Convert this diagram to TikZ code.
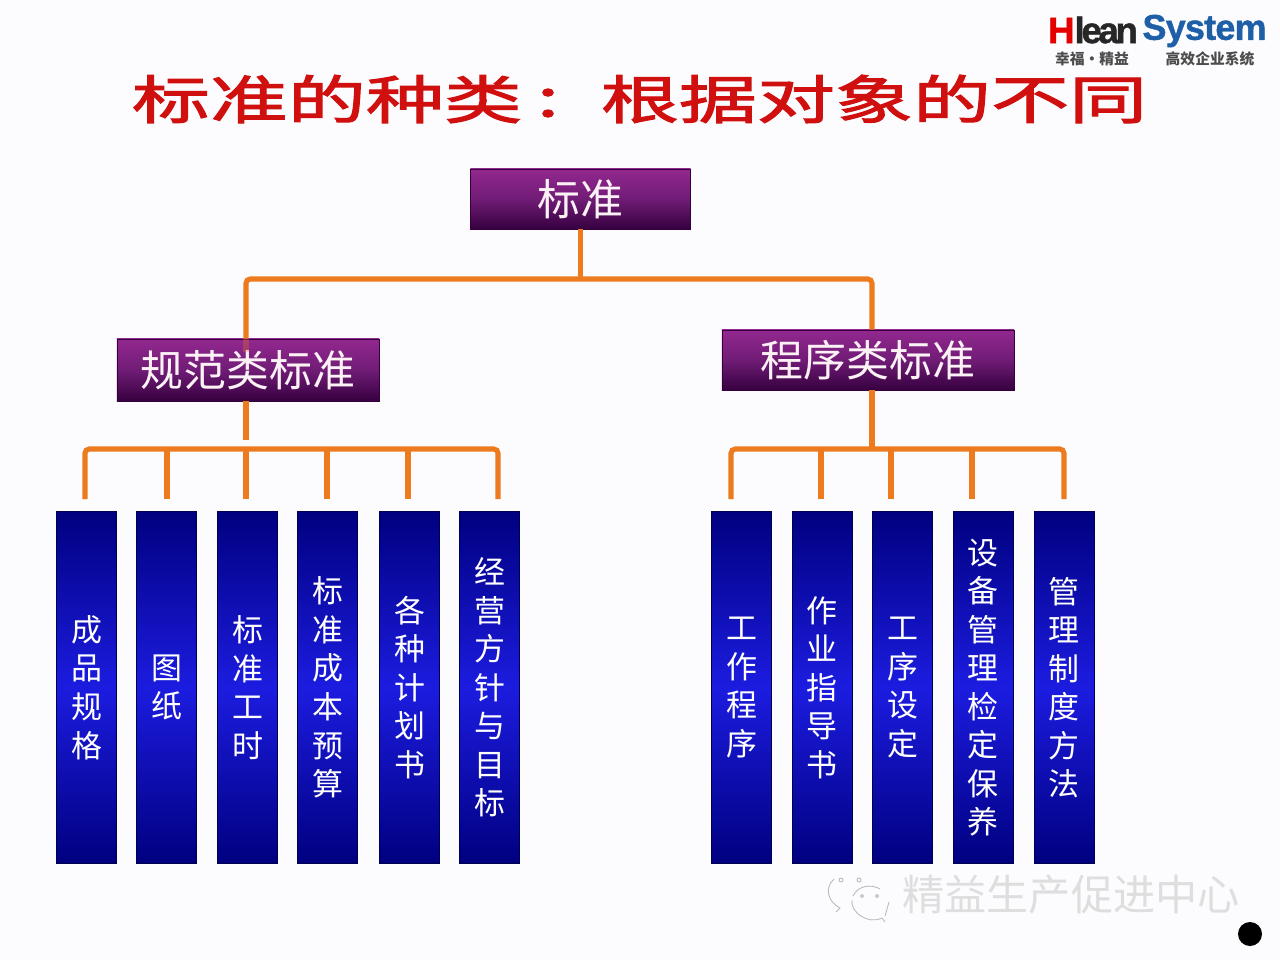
\documentclass[tikz,border=0pt]{standalone}
\usepackage{fontspec}
\newfontfamily\cjk{Noto Sans CJK SC}
\newfontfamily\titlefont[FakeStretch=1.5,FakeBold=2.2]{Noto Sans CJK SC}
\newfontfamily\logofont[LetterSpace=-9,FakeBold=1.2]{Liberation Sans}
\newfontfamily\logofontb[LetterSpace=-2,FakeBold=1.2]{Liberation Sans}
\usetikzlibrary{calc}

\definecolor{busorange}{HTML}{EE7A1E}
\definecolor{titlered}{HTML}{D0100F}
\definecolor{logoblue}{HTML}{1F5FA8}
\definecolor{headtop}{HTML}{93288F}
\definecolor{headmid}{HTML}{701C76}
\definecolor{headbot}{HTML}{36003F}
\definecolor{coldark}{HTML}{000080}
\definecolor{colmid}{HTML}{1C1CE0}

\tikzset{
  headbox/.style={draw=headbot, line width=0.5pt, text=white!95!purple, inner sep=0pt,
    top color=headtop, bottom color=headbot, middle color=headmid,
    font=\cjk\fontsize{30.5}{34}\selectfont},
  colbox/.style={draw=blue!30!black, line width=0.4pt, text=white, inner sep=0pt, align=center,
    minimum width=1.5cm, minimum height=8.8cm,
    top color=coldark, bottom color=coldark, middle color=colmid,
    font=\cjk\fontsize{22}{27.4}\selectfont},
  bus/.style={draw=busorange, line width=3.6pt, rounded corners=3pt},
  titletext/.style={inner sep=0pt, text=titlered, font=\titlefont\fontsize{37}{42}\selectfont},
  logotext/.style={inner sep=0pt, text=black!70, font=\cjk\bfseries\fontsize{10.5}{12}\selectfont},
  wmark/.style={text=black!13, font=\cjk\fontsize{30}{34}\selectfont, inner sep=0pt},
  wline/.style={draw=black!28, line width=0.6pt}
}

\begin{document}
\begin{tikzpicture}[x=0.025cm,y=-0.025cm]

% Page
\useasboundingbox (0,0) rectangle (1280,960);
\fill[blue!1!white] (0,0) rectangle (1280,960);

% Points on the connectors
\coordinate (busTL) at (246,279);
\coordinate (busTR) at (872,279);
\coordinate (stemL) at (246,440);
\coordinate (busL) at (246,449);
\coordinate (busR) at (872,449);
\foreach \name/\x in {A/85,B/167,C/246,D/327,E/408,F/498,G/731,H/821,I/891,J/972,K/1064}
  \coordinate (drop\name) at (\x,499);

% Title and logo
\node[titletext] (titleA) at (327,99) {标准的种类};
\node[titletext] (titleB) at (548,103) {:};
\node[titletext] (titleC) at (874,99) {根据对象的不同};
\node[inner sep=0pt, font=\logofont\bfseries\fontsize{26}{28}\selectfont] (logoA) at (1093,30)
  {\textcolor{red!90!black}{H}\textcolor{black!85}{lean}};
\node[inner sep=0pt, text=logoblue, font=\logofontb\bfseries\fontsize{25.5}{28}\selectfont] (logoB) at (1204.5,31) {System};
\node[logotext] (logoC) at (1092,59) {幸福·精益};
\node[logotext] (logoD) at (1210,59) {高效企业系统};

% Head boxes
\node[headbox, minimum width=5.5cm, minimum height=1.5cm] (std) at (580.5,199) {标准};
\node[headbox, minimum width=6.55cm, minimum height=1.55cm] (spec) at (248,370) {规范类标准};
\node[headbox, minimum width=7.3cm, minimum height=1.5cm] (proc) at (868,360) {程序类标准};

% Connectors
\draw[bus] (std.south) -- (std.south |- busTL);
\draw[bus] (spec.north -| busTL) -- (busTL) -- (busTR) -- (proc.north -| busTR);
\draw[bus, opacity=0.3] (spec.north -| busTL) -- ++(0,13);
\draw[bus] (spec.south -| stemL) -- (stemL);
\draw[bus] (proc.south -| busR) -- (busR);
\draw[bus] (dropA) |- (busL) -| (dropF);
\draw[bus] (dropB) -- (dropB |- busL);
\draw[bus] (dropC) -- (dropC |- busL);
\draw[bus] (dropD) -- (dropD |- busL);
\draw[bus] (dropE) -- (dropE |- busL);
\draw[bus] (dropG) |- (busR) -| (dropK);
\draw[bus] (dropH) -- (dropH |- busR);
\draw[bus] (dropI) -- (dropI |- busR);
\draw[bus] (dropJ) -- (dropJ |- busR);

% Left columns
\node[colbox] (colA) at (86.5,687.5) {成\\品\\规\\格};
\node[colbox] (colB) at (166.5,687.5) {图\\纸};
\node[colbox] (colC) at (247.5,687.5) {标\\准\\工\\时};
\node[colbox] (colD) at (327.5,687.5) {标\\准\\成\\本\\预\\算};
\node[colbox] (colE) at (409.5,687.5) {各\\种\\计\\划\\书};
\node[colbox] (colF) at (489.5,687.5) {经\\营\\方\\针\\与\\目\\标};

% Right columns
\node[colbox] (colG) at (741.5,687.5) {工\\作\\程\\序};
\node[colbox] (colH) at (822,687.5) {作\\业\\指\\导\\书};
\node[colbox] (colI) at (902.5,687.5) {工\\序\\设\\定};
\node[colbox] (colJ) at (983,687.5) {设\\备\\管\\理\\检\\定\\保\\养};
\node[colbox] (colK) at (1064,687.5) {管\\理\\制\\度\\方\\法};

% Watermark
\draw[wline] (834,879) .. controls (824,888) and (828,902) .. (840,908) -- (836,912);
\draw[wline] (853,896) .. controls (858,885) and (872,884) .. (880,889);
\draw[wline] (852,900) .. controls (850,912) and (868,925) .. (882,918) -- (885,922);
\draw[wline] (889,902) -- (885,916);
\draw[wline] (841,880) circle (2);
\draw[wline] (859,880) circle (2);
\draw[wline] (862,896) circle (1.5);
\draw[wline] (877,896) circle (1.5);
\node[wmark] (wm) at (1071,895) {精益生产促进中心};

% Dot
\fill[black] (1250,934) circle (12);

\end{tikzpicture}
\end{document}
